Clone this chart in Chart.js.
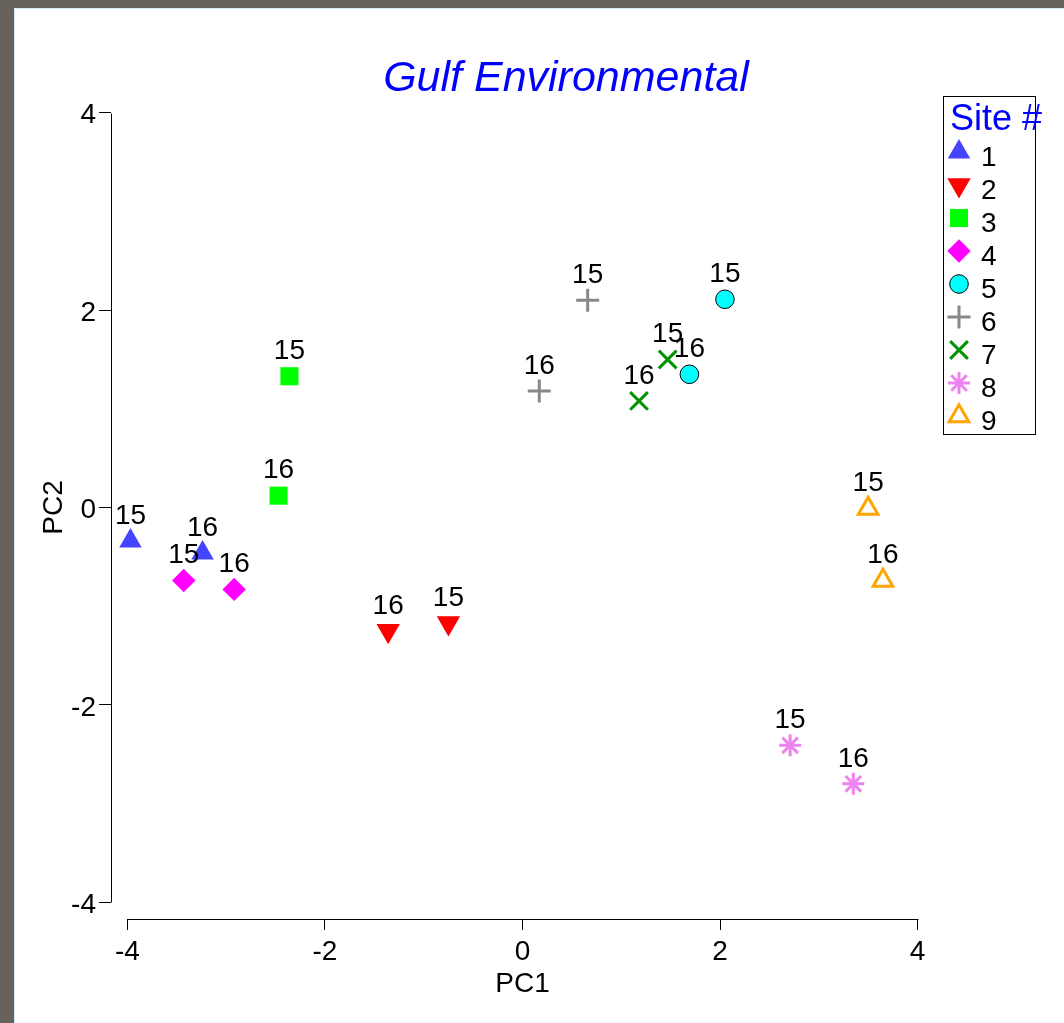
<!DOCTYPE html>
<html>
<head>
<meta charset="utf-8">
<title>Gulf Environmental</title>
<script src="https://cdn.jsdelivr.net/npm/chart.js@4.4.1/dist/chart.umd.min.js"></script>
<style>
  html, body { margin: 0; padding: 0; width: 1064px; height: 1023px; overflow: hidden; background: #68625d; }
  #sheet { position: absolute; left: 14px; top: 8px; right: 0; bottom: 0; background: #ffffff;
           border-left: 1px solid #d6eaf5; border-top: 1px solid #d6eaf5; }
  #plot { position: absolute; left: 0; top: 0; }
</style>
</head>
<body>
<div id="sheet"></div>
<canvas id="plot" width="1064" height="1023"></canvas>
<script>
// Sites and sampling years
const sites = ['1', '2', '3', '4', '5', '6', '7', '8', '9'];
const years = ['15', '16'];

// Principal component scores per site, year 15
const pc1Year15 = [-3.97, -0.75, -2.36, -3.43, 2.05, 0.66, 1.47, 2.71, 3.50];
const pc2Year15 = [-0.34, -1.17, 1.33, -0.74, 2.11, 2.10, 1.50, -2.41, -0.01];
// Principal component scores per site, year 16
const pc1Year16 = [-3.24, -1.36, -2.47, -2.92, 1.69, 0.17, 1.18, 3.35, 3.65];
const pc2Year16 = [-0.46, -1.25, 0.12, -0.83, 1.35, 1.18, 1.08, -2.80, -0.74];

// Axis ticks
const xTicks = [-4, -2, 0, 2, 4];
const xTickLabels = ['-4', '-2', '0', '2', '4'];
const yTicks = [-4, -2, 0, 2, 4];
const yTickLabels = ['-4', '-2', '0', '2', '4'];

// Marker styling per site
const markerStyles = [
  { pointStyle: 'triangle', radius: 13,   rotation: 0,   fill: '#4444ff', stroke: '#4444ff', width: 0 },
  { pointStyle: 'triangle', radius: 13.5, rotation: 180, fill: '#ff0000', stroke: '#ff0000', width: 0 },
  { pointStyle: 'rect',     radius: 12.8, rotation: 0,   fill: '#00ff00', stroke: '#00ff00', width: 0 },
  { pointStyle: 'rectRot',  radius: 11.7, rotation: 0,   fill: '#ff00ff', stroke: '#ff00ff', width: 0 },
  { pointStyle: 'circle',   radius: 9.3,  rotation: 0,   fill: '#00ffff', stroke: '#000000', width: 1 },
  { pointStyle: 'cross',    radius: 11.5, rotation: 0,   fill: 'rgba(0,0,0,0)', stroke: '#888888', width: 3 },
  { pointStyle: 'crossRot', radius: 12.5, rotation: 0,   fill: 'rgba(0,0,0,0)', stroke: '#009400', width: 3 },
  { pointStyle: 'star',     radius: 11,   rotation: 0,   fill: 'rgba(0,0,0,0)', stroke: '#ee82ee', width: 3 },
  { pointStyle: 'triangle', radius: 11.3, rotation: 0,   fill: 'rgba(0,0,0,0)', stroke: '#ffa500', width: 3 }
];

const FONT = '"Liberation Sans", Arial, Helvetica, sans-serif';
Chart.defaults.font.family = FONT;
Chart.defaults.color = '#000000';

const datasets = sites.map((site, i) => ({
  label: site,
  data: [
    { x: pc1Year15[i], y: pc2Year15[i], year: years[0] },
    { x: pc1Year16[i], y: pc2Year16[i], year: years[1] }
  ],
  pointStyle: markerStyles[i].pointStyle,
  pointRadius: markerStyles[i].radius,
  pointRotation: markerStyles[i].rotation,
  backgroundColor: markerStyles[i].fill,
  borderColor: markerStyles[i].stroke,
  borderWidth: markerStyles[i].width,
  pointBorderWidth: markerStyles[i].width
}));

// Axis lines spanning only the tick range (base-graphics look)
const axisLines = {
  id: 'axisLines',
  afterDraw(chart) {
    const { ctx, chartArea, scales } = chart;
    const xs = scales.x, ys = scales.y;
    ctx.save();
    ctx.strokeStyle = '#000';
    ctx.lineWidth = 1;
    ctx.beginPath();
    const lx = Math.round(chartArea.left) + 0.5;
    ctx.moveTo(lx, Math.round(ys.getPixelForValue(yTicks[yTicks.length - 1])) + 0.5);
    ctx.lineTo(lx, Math.round(ys.getPixelForValue(yTicks[0])) + 0.5);
    const by = Math.round(chartArea.bottom) + 0.5;
    ctx.moveTo(Math.round(xs.getPixelForValue(xTicks[0])) + 0.5, by);
    ctx.lineTo(Math.round(xs.getPixelForValue(xTicks[xTicks.length - 1])) + 0.5, by);
    ctx.stroke();
    ctx.restore();
  }
};

// Year labels above each marker
const yearLabels = {
  id: 'yearLabels',
  afterDatasetsDraw(chart) {
    const { ctx } = chart;
    ctx.save();
    ctx.font = '28px ' + FONT;
    ctx.fillStyle = '#000';
    ctx.textAlign = 'center';
    ctx.textBaseline = 'middle';
    chart.data.datasets.forEach((ds, i) => {
      const meta = chart.getDatasetMeta(i);
      meta.data.forEach((pt, j) => {
        ctx.fillText(ds.data[j].year, pt.x, pt.y - 25);
      });
    });
    ctx.restore();
  }
};

// Main title
const plotTitle = {
  id: 'plotTitle',
  afterDraw(chart) {
    const { ctx } = chart;
    ctx.save();
    ctx.font = 'italic 43px ' + FONT;
    ctx.fillStyle = '#0000ff';
    ctx.textAlign = 'center';
    ctx.textBaseline = 'middle';
    ctx.fillText('Gulf Environmental', 566, 79);
    ctx.restore();
  }
};

// Boxed legend of site markers
const siteLegend = {
  id: 'siteLegend',
  afterDraw(chart) {
    const { ctx } = chart;
    ctx.save();
    ctx.strokeStyle = '#000';
    ctx.lineWidth = 1;
    ctx.strokeRect(943.5, 96.5, 92, 338);
    ctx.font = '36px ' + FONT;
    ctx.fillStyle = '#0000ff';
    ctx.textAlign = 'left';
    ctx.textBaseline = 'middle';
    ctx.fillText('Site #', 950, 120);
    chart.data.datasets.forEach((ds, i) => {
      const rowY = 152 + i * 33;
      const st = markerStyles[i];
      ctx.fillStyle = st.fill;
      ctx.strokeStyle = st.stroke;
      ctx.lineWidth = st.width;
      Chart.helpers.drawPoint(ctx, {
        pointStyle: st.pointStyle,
        radius: st.radius,
        rotation: st.rotation,
        borderWidth: st.width
      }, 959, rowY);
      ctx.font = '28px ' + FONT;
      ctx.fillStyle = '#000';
      ctx.fillText(ds.label, 981, rowY + 6);
    });
    ctx.restore();
  }
};

new Chart(document.getElementById('plot'), {
  type: 'scatter',
  data: { datasets },
  options: {
    responsive: false,
    animation: false,
    events: [],
    layout: { padding: { top: 96, right: 130, bottom: 0, left: 0 } },
    plugins: {
      legend: { display: false },
      title: { display: false },
      tooltip: { enabled: false }
    },
    scales: {
      x: {
        type: 'linear',
        position: 'bottom',
        min: -4.167,
        max: 4.167,
        afterBuildTicks(axis) { axis.ticks = xTicks.map(v => ({ value: v })); },
        afterFit(axis) { axis.height = 104; },
        border: { display: false },
        grid: { display: true, drawOnChartArea: false, drawTicks: true, tickLength: 11, color: '#000', lineWidth: 1 },
        ticks: {
          padding: 5,
          maxRotation: 0,
          autoSkip: false,
          font: { size: 28 },
          color: '#000',
          callback: (v, idx) => xTickLabels[idx]
        },
        title: { display: true, text: 'PC1', font: { size: 28 }, color: '#000', padding: { top: 0, bottom: 22 } }
      },
      y: {
        type: 'linear',
        position: 'left',
        min: -4.17,
        max: 4.17,
        afterBuildTicks(axis) { axis.ticks = yTicks.map(v => ({ value: v })); },
        afterFit(axis) { axis.width = 111; },
        border: { display: false },
        grid: { display: true, drawOnChartArea: false, drawTicks: true, tickLength: 12, color: '#000', lineWidth: 1 },
        ticks: {
          padding: 3,
          labelOffset: 3,
          autoSkip: false,
          font: { size: 28 },
          color: '#000',
          callback: (v, idx) => yTickLabels[idx]
        },
        title: { display: true, text: 'PC2', font: { size: 28 }, color: '#000', padding: { top: 37, bottom: 0 } }
      }
    }
  },
  plugins: [axisLines, yearLabels, plotTitle, siteLegend]
});
</script>
</body>
</html>
